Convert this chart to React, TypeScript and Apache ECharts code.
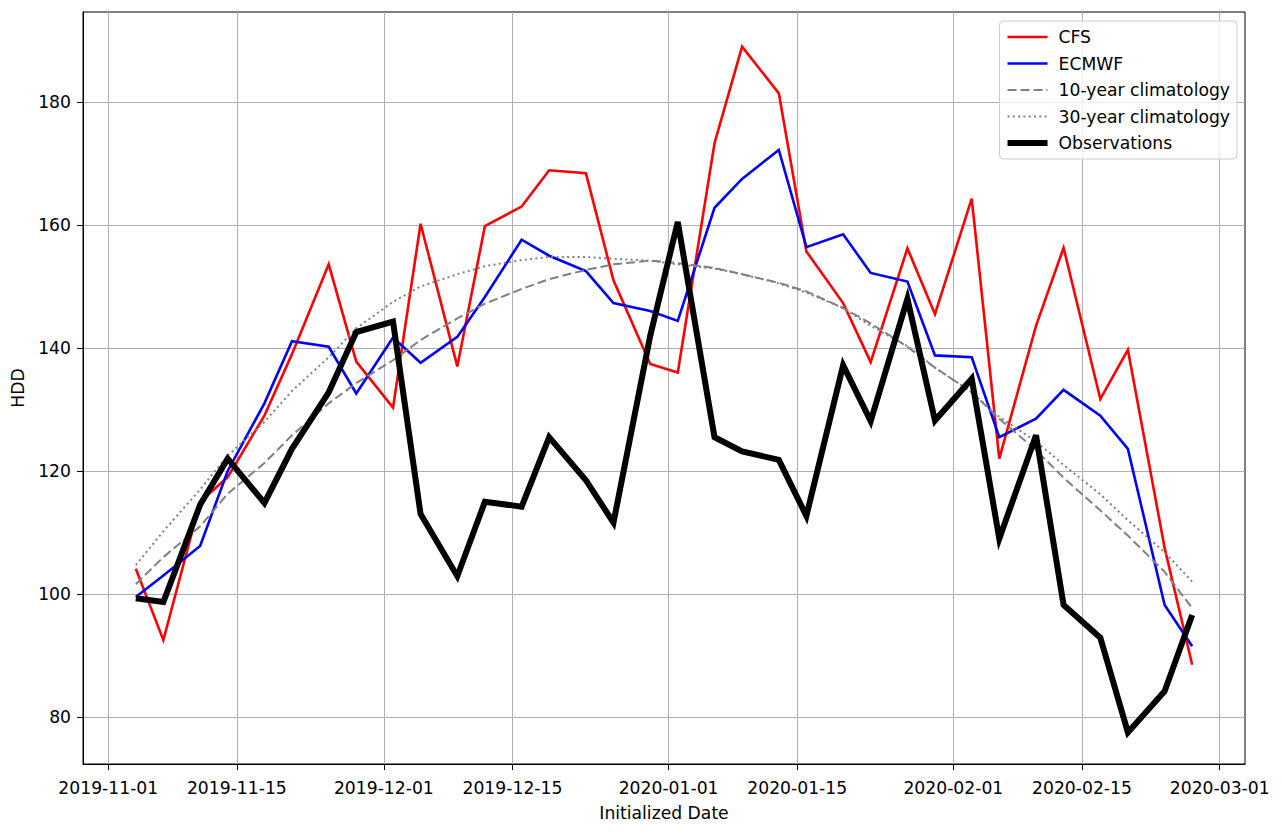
import React, { useEffect, useRef } from "react";
import * as echarts from "echarts";

const dates = ["2019-11-04","2019-11-07","2019-11-11","2019-11-14","2019-11-18","2019-11-21","2019-11-25","2019-11-28","2019-12-02","2019-12-05","2019-12-09","2019-12-12","2019-12-16","2019-12-19","2019-12-23","2019-12-26","2019-12-30","2020-01-02","2020-01-06","2020-01-09","2020-01-13","2020-01-16","2020-01-20","2020-01-23","2020-01-27","2020-01-30","2020-02-03","2020-02-06","2020-02-10","2020-02-13","2020-02-17","2020-02-20","2020-02-24","2020-02-27"];

const cfs = [104.1,92.5,115,119,129,139,153.6,137.8,130.3,160.2,137,159.8,163,168.9,168.4,151,137.4,136,173.3,189,181.4,155.7,147.3,137.7,156.2,145.5,164.3,122,143.6,156.3,131.7,139.7,107.5,88.5];
const ecmwf = [99.5,103,107.8,120,131,141.1,140.2,132.6,141.7,137.6,141.8,148.3,157.6,155,152.5,147.3,146,144.4,162.8,167.5,172.2,156.4,158.5,152.2,150.8,138.8,138.5,125.5,128.5,133.2,129,123.6,98.2,91.5];
const clim10 = [101.6,106,111,116.3,121.3,125.8,131,134.3,138,141.3,144.8,147.2,149.6,151.2,152.7,153.6,154.2,153.8,153,152,150.6,149.2,146.5,144,140.2,136.8,132.8,128.5,123.4,118.9,113.6,109.5,103.6,97.7];
const clim30 = [104.7,110.2,117,122.5,128,133,138.5,143.2,147.5,150,152,153.3,154.3,154.8,154.8,154.5,154.2,153.6,152.9,152,150.5,149,146.5,143.6,140.3,136.8,132.8,128.8,124.8,121,116.2,112,106.8,102];
const obs = [99.3,98.7,114.5,122,114.8,123.6,132.8,142.6,144.3,113,102.9,115,114.2,125.5,118.5,111.6,142,160.5,125.5,123.2,121.8,112.7,137.2,128.1,148,128.2,135,109,125.8,98.2,92.9,77.5,84.2,96.6];

const xTickLabels = ["2019-11-01","2019-11-15","2019-12-01","2019-12-15","2020-01-01","2020-01-15","2020-02-01","2020-02-15","2020-03-01"];
const yTicks = [80, 100, 120, 140, 160, 180];

const DAY = 86400000;
const toTs = (s: string) => {
  const [y, m, d] = s.split("-").map(Number);
  return Date.UTC(y, m - 1, d);
};
const pad = (n: number) => (n < 10 ? "0" + n : "" + n);
const fmt = (v: number) => {
  const d = new Date(Math.round(v));
  return d.getUTCFullYear() + "-" + pad(d.getUTCMonth() + 1) + "-" + pad(d.getUTCDate());
};

const FONT = "DejaVu Sans";
const FS = 17.2;

export default function App() {
  const ref = useRef<HTMLDivElement>(null);
  useEffect(() => {
    if (!ref.current) return;
    const chart = echarts.init(ref.current, undefined, { renderer: "svg" });
    const xs = dates.map((d) => toTs(d));
    const pair = (arr: number[]) => arr.map((v, i) => [xs[i], v]);
    const xTicks = xTickLabels.map((d) => toTs(d));
    const mk = (name: string, data: number[], color: string, width: number, type: any) => ({
      name,
      type: "line",
      data: pair(data),
      symbol: "none",
      showSymbol: false,
      lineStyle: { color, width, type, cap: "butt", join: "miter" },
      itemStyle: { color },
      emphasis: { disabled: true },
    });
    chart.setOption({
      animation: false,
      backgroundColor: "#ffffff",
      textStyle: { fontFamily: FONT },
      grid: {
        left: 83,
        right: 37,
        top: 12,
        bottom: 71,
        show: true,
        borderColor: "#000",
        borderWidth: 1,
        containLabel: false,
      },
      legend: {
        orient: "vertical",
        right: 45,
        top: 21,
        padding: [7, 7, 7, 5],
        itemWidth: 40,
        itemHeight: 18,
        itemGap: 8.5,
        backgroundColor: "rgba(255,255,255,0.8)",
        borderColor: "#cccccc",
        borderWidth: 1,
        borderRadius: 4,
        itemStyle: { color: "transparent", borderWidth: 0, opacity: 0 },
        textStyle: { fontFamily: FONT, fontSize: FS, color: "#000", lineHeight: 18, padding: [0, 0, 0, 6] },
        data: [
          { name: "CFS", lineStyle: { width: 2.6 } },
          { name: "ECMWF", lineStyle: { width: 2.6 } },
          { name: "10-year climatology", lineStyle: { width: 2 } },
          { name: "30-year climatology", lineStyle: { width: 2 } },
          { name: "Observations", lineStyle: { width: 6 } },
        ],
      },
      xAxis: {
        type: "value",
        min: toTs("2019-11-04") - 5.75 * DAY,
        max: toTs("2020-02-27") + 5.75 * DAY,
        name: "Initialized Date",
        nameLocation: "middle",
        nameGap: 40,
        nameTextStyle: { fontFamily: FONT, fontSize: FS, color: "#000" },
        axisLine: { show: true, onZero: false, lineStyle: { color: "#000", width: 1 } },
        axisTick: { show: true, inside: false, length: 6, customValues: xTicks, lineStyle: { color: "#000", width: 1 } },
        axisLabel: {
          customValues: xTicks,
          formatter: (v: number) => fmt(v),
          fontFamily: FONT,
          fontSize: FS,
          color: "#000",
          margin: 15,
        },
        splitLine: { show: true, lineStyle: { color: "#b0b0b0", width: 1 } },
      },
      yAxis: {
        type: "value",
        min: 72.36,
        max: 194.63,
        name: "HDD",
        nameLocation: "middle",
        nameRotate: 90,
        nameGap: 57,
        nameTextStyle: { fontFamily: FONT, fontSize: FS, color: "#000" },
        axisLine: { show: true, onZero: false, lineStyle: { color: "#000", width: 1 } },
        axisTick: { show: true, inside: false, length: 6, customValues: yTicks, lineStyle: { color: "#000", width: 1 } },
        axisLabel: {
          customValues: yTicks,
          fontFamily: FONT,
          fontSize: FS,
          color: "#000",
          margin: 12,
        },
        splitLine: { show: true, lineStyle: { color: "#b0b0b0", width: 1 } },
      },
      series: [
        mk("CFS", cfs, "#ff0000", 2.6, "solid"),
        mk("ECMWF", ecmwf, "#0000ff", 2.6, "solid"),
        mk("10-year climatology", clim10, "#808080", 2, [9, 4]),
        mk("30-year climatology", clim30, "#808080", 2, [2, 3.3]),
        mk("Observations", obs, "#000000", 6, "solid"),
      ],
    });
    return () => chart.dispose();
  }, []);
  return (
    <div
      ref={ref}
      style={{ position: "absolute", left: 0, top: 0, width: 1282, height: 835, background: "#fff" }}
    />
  );
}
